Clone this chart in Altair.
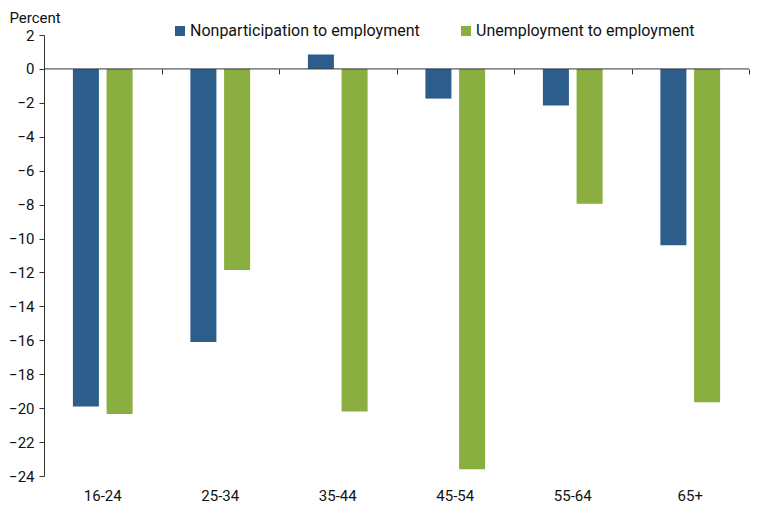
import altair as alt
import pandas as pd

ages = ["16-24", "25-34", "35-44", "45-54", "55-64", "65+"]
series = ["Nonparticipation to employment", "Unemployment to employment"]
nonpart = [-19.9, -16.1, 0.85, -1.75, -2.15, -10.4]
unemp = [-20.35, -11.85, -20.2, -23.6, -7.95, -19.65]
colors = ["#2d5e8b", "#8aae3f"]
y_ticks = list(range(-24, 3, 2))
boundaries = [0, 1, 2, 3, 4, 5, 6]

rows = []
for i, a in enumerate(ages):
    rows.append({"age": a, "series": series[0], "value": nonpart[i]})
    rows.append({"age": a, "series": series[1], "value": unemp[i]})
df = pd.DataFrame(rows)

W, H = 705, 441
FONT = "Roboto"
FS = 15

y_scale = alt.Scale(domain=[-24, 2], nice=False, zero=False)
y_axis = alt.Axis(values=y_ticks, grid=False, domainColor="#333",
                  tickColor="#333", tickSize=5, labelPadding=5,
                  labelFontSize=FS, labelFont=FONT, labelColor="#111",
                  labelOverlap=False,
                  titleAngle=0, titleAlign="left", titleBaseline="alphabetic",
                  titleX=-35, titleY=-13, titleFontSize=FS,
                  titleFontWeight="normal", titleFont=FONT, titleColor="#111")

bars = alt.Chart(df).mark_bar().encode(
    x=alt.X("age:N", sort=ages, title=None,
            scale=alt.Scale(paddingInner=0, paddingOuter=0),
            axis=alt.Axis(domain=False, ticks=False, labelAngle=0,
                          labelFontSize=FS, labelFont=FONT, labelColor="#111",
                          labelPadding=12)),
    xOffset=alt.XOffset("series:N", sort=series,
                        scale=alt.Scale(paddingInner=0.228, paddingOuter=0.857)),
    y=alt.Y("value:Q", title="Percent", scale=y_scale, axis=y_axis),
    color=alt.Color("series:N", sort=series,
                    scale=alt.Scale(domain=series, range=colors),
                    legend=alt.Legend(title=None, orient="none", direction="horizontal",
                                      legendX=128, legendY=-12, symbolType="square",
                                      symbolSize=100, symbolStrokeWidth=0,
                                      labelFontSize=16, labelFont=FONT, labelLimit=400,
                                      labelColor="#111", columnPadding=38,
                                      labelOffset=2)),
)

zero_df = pd.DataFrame({"b": [boundaries[0]], "b2": [boundaries[-1]], "y": [0]})
zero = alt.Chart(zero_df).mark_rule(color="#333", strokeWidth=1).encode(
    x=alt.X("b:Q", title=None,
            scale=alt.Scale(domain=[boundaries[0], boundaries[-1]], nice=False, zero=False),
            axis=alt.Axis(orient="bottom", offset=-(H * 24 / 26), values=boundaries,
                          labels=False, domain=False, grid=False, ticks=True,
                          tickSize=5, tickColor="#333")),
    x2="b2:Q",
    y=alt.Y("y:Q", title="Percent", scale=y_scale, axis=y_axis),
)

chart = alt.layer(bars, zero).resolve_scale(x="independent").resolve_axis(x="independent").properties(
    width=W, height=H,
    autosize=alt.AutoSizeParams(type="none"),
    padding={"left": 36, "top": 27, "right": 10, "bottom": 30},
).configure(font=FONT).configure_view(stroke=None)

chart.save("out.html", embed_options={"renderer": "svg", "actions": False})
